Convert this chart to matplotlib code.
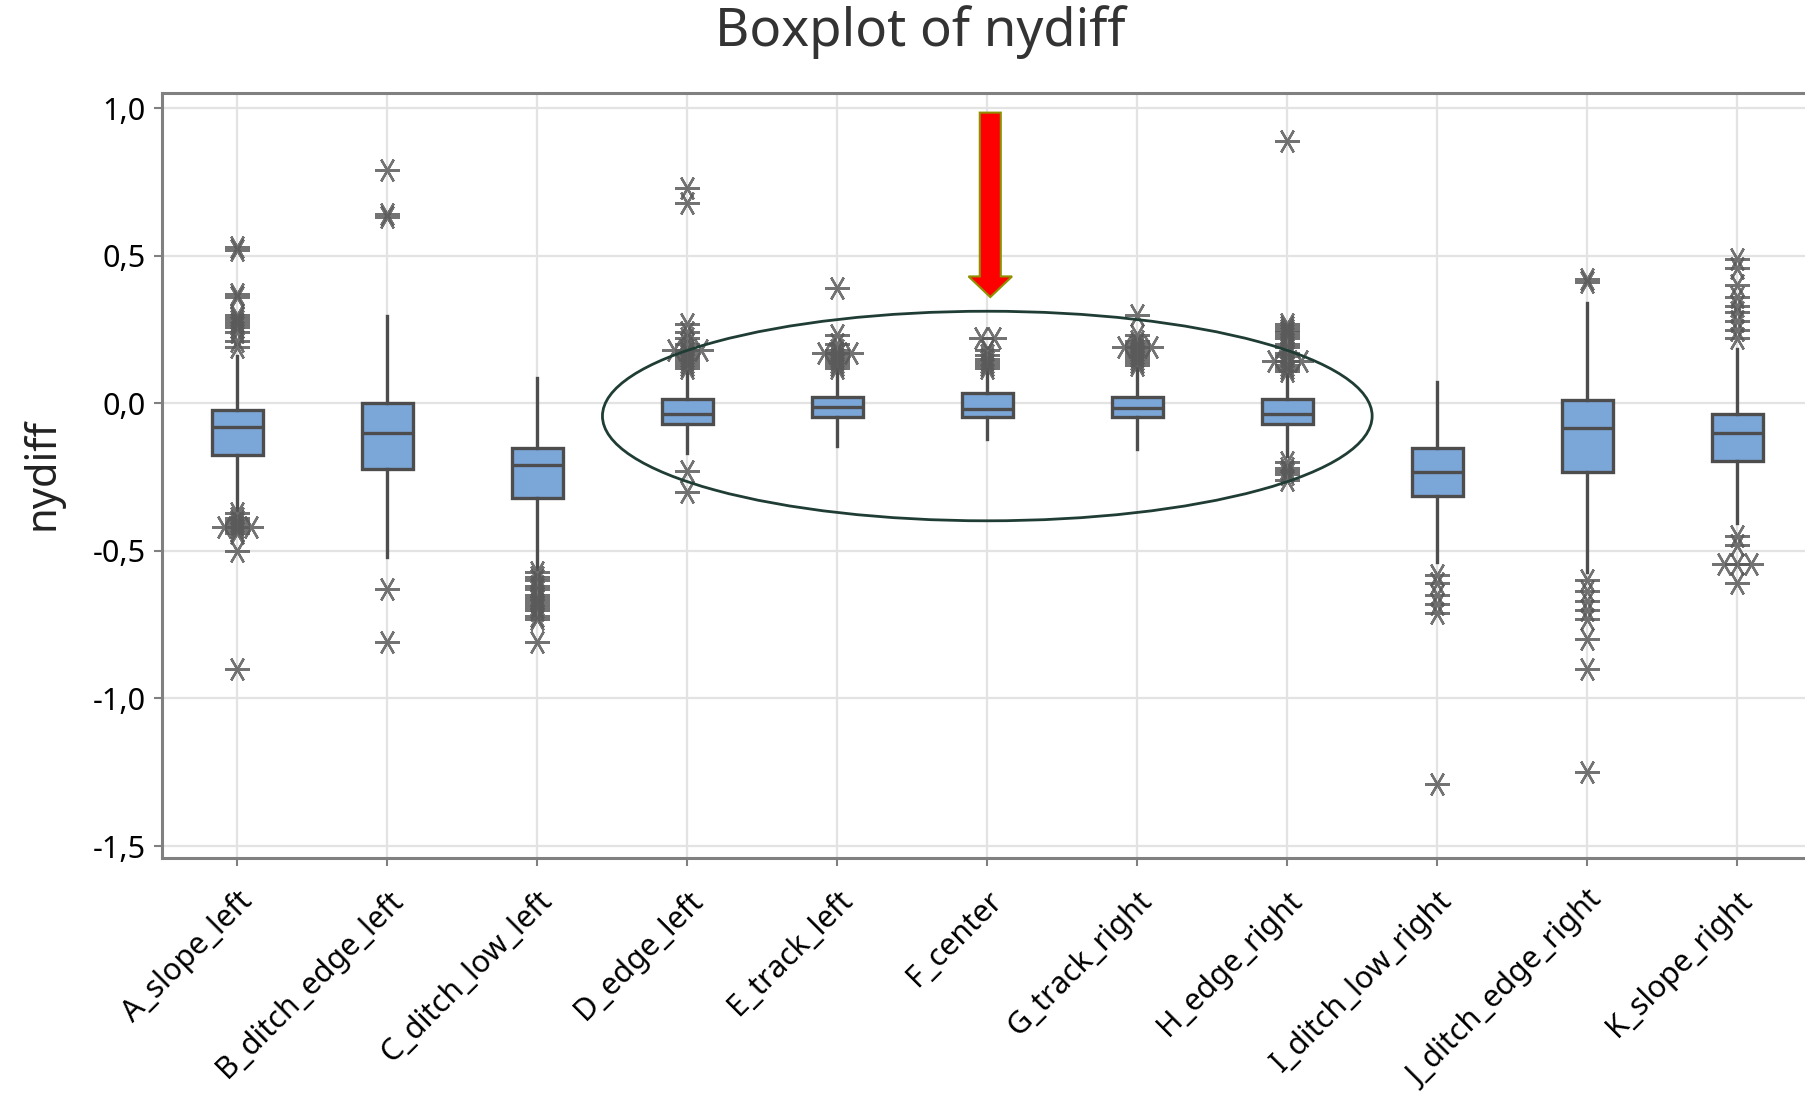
import matplotlib.pyplot as plt
from matplotlib.patches import Ellipse, FancyArrow

plt.rcParams['font.family'] = ['Noto Sans', 'DejaVu Sans']

labels = ["A_slope_left", "B_ditch_edge_left", "C_ditch_low_left", "D_edge_left",
          "E_track_left", "F_center", "G_track_right", "H_edge_right",
          "I_ditch_low_right", "J_ditch_edge_right", "K_slope_right"]

q1 = [-0.174, -0.221, -0.322, -0.071, -0.046, -0.046, -0.046, -0.071, -0.313, -0.232, -0.195]
med = [-0.080, -0.102, -0.209, -0.035, -0.011, -0.020, -0.017, -0.036, -0.232, -0.082, -0.102]
q3 = [-0.022, 0.002, -0.152, 0.013, 0.023, 0.036, 0.023, 0.013, -0.152, 0.010, -0.037]
whislo = [-0.36, -0.522, -0.562, -0.167, -0.144, -0.122, -0.156, -0.178, -0.539, -0.573, -0.404]
whishi = [0.16, 0.296, 0.087, 0.11, 0.115, 0.115, 0.12, 0.098, 0.073, 0.341, 0.183]

outliers = [
    [0.53, 0.52, 0.37, 0.36, 0.30, 0.29, 0.28, 0.27, 0.26, 0.24, 0.21, 0.19,
     -0.37, -0.39, -0.40, -0.41, -0.42, -0.42, -0.42, -0.43, -0.44, -0.50, -0.90],
    [0.79, 0.64, 0.63, -0.63, -0.81],
    [-0.57, -0.59, -0.60, -0.62, -0.63, -0.65, -0.66, -0.67, -0.68, -0.69, -0.70,
     -0.72, -0.73, -0.81],
    [0.73, 0.68, 0.27, 0.24, 0.22, 0.20, 0.18, 0.18, 0.18, 0.17, 0.16, 0.15, 0.14,
     0.13, 0.12, -0.23, -0.30],
    [0.39, 0.23, 0.20, 0.18, 0.17, 0.17, 0.17, 0.16, 0.15, 0.14, 0.13, 0.12],
    [0.22, 0.22, 0.18, 0.165, 0.15, 0.14, 0.13, 0.12],
    [0.30, 0.23, 0.21, 0.20, 0.19, 0.19, 0.19, 0.18, 0.17, 0.16, 0.15, 0.14, 0.13],
    [0.89, 0.27, 0.26, 0.25, 0.24, 0.23, 0.22, 0.20, 0.19, 0.17, 0.16, 0.145, 0.145,
     0.145, 0.13, 0.12, 0.11, -0.20, -0.22, -0.23, -0.24, -0.26],
    [-0.58, -0.61, -0.65, -0.68, -0.71, -1.29],
    [0.42, 0.41, -0.60, -0.635, -0.67, -0.70, -0.73, -0.80, -0.90, -1.25],
    [0.49, 0.46, 0.40, 0.36, 0.33, 0.31, 0.28, 0.25, 0.22, -0.45, -0.48, -0.545,
     -0.545, -0.545, -0.61],
]

yticks = [-1.5, -1.0, -0.5, 0.0, 0.5, 1.0]
ytick_labels = ["-1,5", "-1,0", "-0,5", "0,0", "0,5", "1,0"]

edge = '#4d4d4d'
fig = plt.figure(figsize=(18.05, 11.15), dpi=100)
ax = fig.add_axes([0.0898, 0.2309, 0.9102, 0.6857])

stats = []
for i in range(len(labels)):
    stats.append(dict(label=labels[i], med=med[i], q1=q1[i], q3=q3[i],
                      whislo=whislo[i], whishi=whishi[i], fliers=[]))

ax.bxp(stats, positions=list(range(len(labels))), widths=0.34, patch_artist=True,
       showfliers=False, showcaps=False,
       boxprops=dict(facecolor='#7ba6d8', edgecolor=edge, linewidth=2.4),
       whiskerprops=dict(color=edge, linewidth=2.4),
       medianprops=dict(color=edge, linewidth=2.4))

# tied outliers are spread sideways so they stay visible
xs, ys = [], []
for i, vals in enumerate(outliers):
    counts = {}
    for v in vals:
        counts[v] = counts.get(v, 0) + 1
    seen = {}
    for v in vals:
        k = seen.get(v, 0)
        seen[v] = k + 1
        xs.append(i + (k - (counts[v] - 1) / 2) * 0.09)
        ys.append(v)
ax.plot(xs, ys, linestyle='none', marker=(6, 2, 90), markersize=18,
        markeredgecolor='#5a5a5a', markeredgewidth=1.7, alpha=0.85, zorder=3)

ax.add_patch(Ellipse((5, -0.043), 5.13, 0.71, fill=False, edgecolor='#1f3d35',
                     linewidth=2, zorder=4))
ax.add_patch(FancyArrow(5.02, 0.985, 0, -0.625, width=0.14, head_width=0.29,
                        head_length=0.07, length_includes_head=True,
                        facecolor='#ff0000', edgecolor='#8f8f00', linewidth=1.5,
                        zorder=5))

ax.set_xlim(-0.5, 10.45)
ax.set_ylim(-1.539, 1.0515)
ax.set_yticks(yticks)
ax.set_yticklabels(ytick_labels)
ax.set_xticks(range(len(labels)))
ax.set_xticklabels(labels, rotation=45, ha='right', rotation_mode='anchor')
ax.tick_params(axis='y', labelsize=22, length=6, width=1.5, color='#808080', pad=6)
ax.tick_params(axis='x', labelsize=22, length=6, width=1.5, color='#808080', pad=14)

ax.grid(True, color='#e3e3e3', linewidth=1.6)
ax.set_axisbelow(True)
for side in ['left', 'top', 'bottom']:
    ax.spines[side].set_color('#808080')
    ax.spines[side].set_linewidth(2.2)
ax.spines['right'].set_visible(False)

ax.set_ylabel('nydiff', fontsize=30, color='#222222')
ax.yaxis.set_label_coords(-0.060, 0.502)
fig.text(0.51, 1 - 32 / 1115, 'Boxplot of nydiff', fontsize=38, color='#333333',
         ha='center', va='center')

fig.savefig('out.png', dpi=100)
